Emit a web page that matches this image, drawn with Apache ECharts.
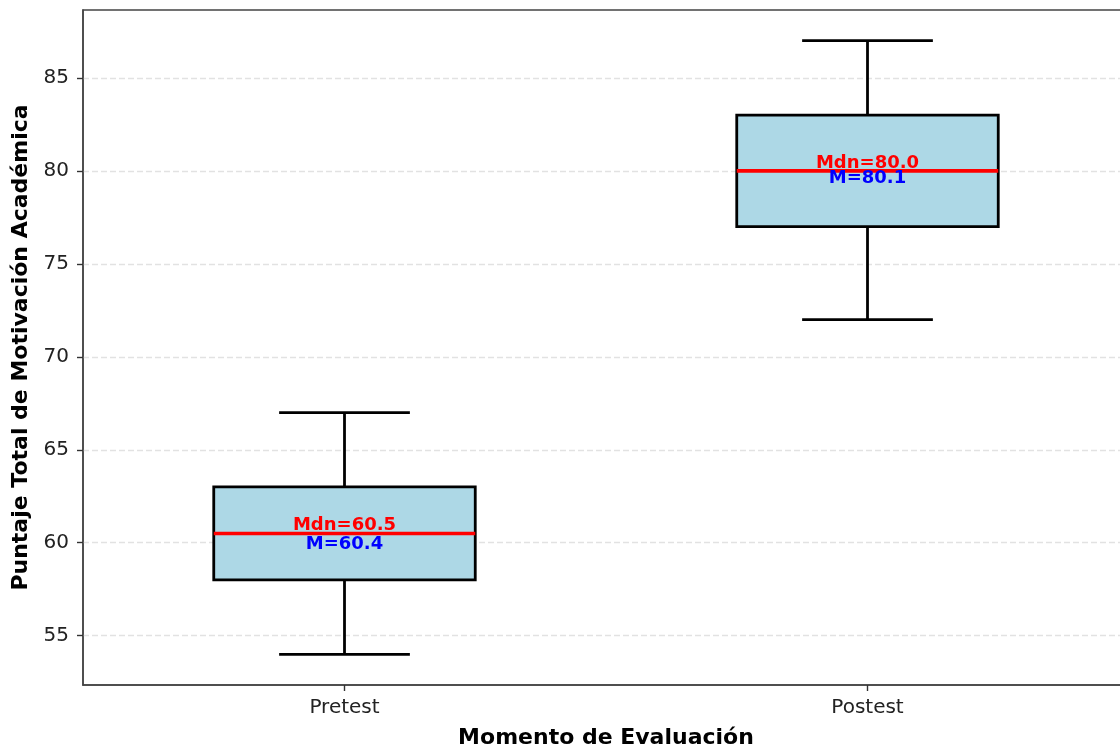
<!DOCTYPE html>
<html><head><meta charset="utf-8">
<script src="https://cdn.jsdelivr.net/npm/echarts@6/dist/echarts.min.js"></script>
<style>html,body{margin:0;padding:0;background:#fff}#c{width:1120px;height:746px}</style>
</head><body><div id="c"></div>
<script>
const categories = ['Pretest', 'Postest'];
const whiskerLow = [54, 72];
const q1 = [58, 77];
const median = [60.5, 80.0];
const q3 = [63, 83];
const whiskerHigh = [67, 87];
const means = [60.4, 80.1];
const yTicks = [55, 60, 65, 70, 75, 80, 85];
const yMin = 52.35, yMax = 88.65;

const FONT = '"DejaVu Sans", sans-serif';
const data = categories.map((c, i) => [i, whiskerLow[i], q1[i], median[i], q3[i], whiskerHigh[i], means[i]]);

function renderItem(params, api) {
  const idx = api.value(0);
  const band = api.size([1, 0])[0];
  const boxW = band * 0.5, capW = band * 0.25;
  const pLow = api.coord([idx, api.value(1)]);
  const pQ1 = api.coord([idx, api.value(2)]);
  const pMed = api.coord([idx, api.value(3)]);
  const pQ3 = api.coord([idx, api.value(4)]);
  const pHigh = api.coord([idx, api.value(5)]);
  const pMean = api.coord([idx, api.value(6)]);
  const x = pMed[0];
  const black = { stroke: '#000', lineWidth: 2.8 };
  return {
    type: 'group', children: [
      { type: 'line', shape: { x1: x, y1: pLow[1], x2: x, y2: pQ1[1] }, style: black },
      { type: 'line', shape: { x1: x, y1: pQ3[1], x2: x, y2: pHigh[1] }, style: black },
      { type: 'line', shape: { x1: x - capW / 2, y1: pLow[1], x2: x + capW / 2, y2: pLow[1] }, style: black },
      { type: 'line', shape: { x1: x - capW / 2, y1: pHigh[1], x2: x + capW / 2, y2: pHigh[1] }, style: black },
      { type: 'rect', shape: { x: x - boxW / 2, y: pQ3[1], width: boxW, height: pQ1[1] - pQ3[1] }, style: { fill: '#add8e6', stroke: '#000', lineWidth: 2.8 } },
      { type: 'line', shape: { x1: x - boxW / 2, y1: pMed[1], x2: x + boxW / 2, y2: pMed[1] }, style: { stroke: '#ff0000', lineWidth: 3.6 } },
      { type: 'text', x: x, y: pMed[1] + 1, style: { text: 'Mdn=' + median[idx].toFixed(1), fill: '#ff0000', font: 'bold 18px ' + FONT, align: 'center', verticalAlign: 'bottom' } },
      { type: 'text', x: x, y: pMean[1], style: { text: 'M=' + means[idx].toFixed(1), fill: '#0000ff', font: 'bold 18px ' + FONT, align: 'center', verticalAlign: 'top' } }
    ]
  };
}

const chart = echarts.init(document.getElementById('c'), null, { renderer: 'canvas' });
chart.setOption({
  animation: false,
  backgroundColor: '#fff',
  grid: { left: 83, right: -9, top: 10, bottom: 61, show: true, borderColor: '#444', borderWidth: 1.5, backgroundColor: 'transparent', outerBoundsMode: 'none', containLabel: false },
  xAxis: {
    type: 'category', data: categories, boundaryGap: true,
    axisLine: { show: true, lineStyle: { color: '#444', width: 1.5 } },
    axisTick: { show: true, alignWithLabel: true, length: 6, lineStyle: { color: '#333', width: 1.4 } },
    axisLabel: { fontSize: 20, color: '#222', margin: 13, fontFamily: FONT },
    splitLine: { show: false },
    name: 'Momento de Evaluación', nameLocation: 'middle', nameGap: 42,
    nameTextStyle: { fontSize: 22, fontWeight: 'bold', color: '#000', fontFamily: FONT }
  },
  yAxis: {
    type: 'value', min: yMin, max: yMax, splitNumber: 7,
    axisLine: { show: true, lineStyle: { color: '#444', width: 1.5 } },
    axisTick: { show: true, length: 6, customValues: yTicks, lineStyle: { color: '#333', width: 1.4 } },
    axisLabel: { fontSize: 20, color: '#222', margin: 14, fontFamily: FONT, customValues: yTicks,
      formatter: v => (yTicks.indexOf(Math.round(v * 100) / 100) >= 0 ? String(v) : '') },
    splitLine: { show: true, lineStyle: { color: '#e2e2e2', width: 1.3, type: [6, 3] } },
    name: 'Puntaje Total de Motivación Académica', nameLocation: 'middle', nameGap: 44,
    nameTextStyle: { fontSize: 22, fontWeight: 'bold', color: '#000', fontFamily: FONT }
  },
  series: [{
    type: 'custom', renderItem: renderItem, data: data,
    encode: { x: 0, y: [1, 2, 3, 4, 5, 6] }, clip: false
  }]
});
</script>
</body></html>
